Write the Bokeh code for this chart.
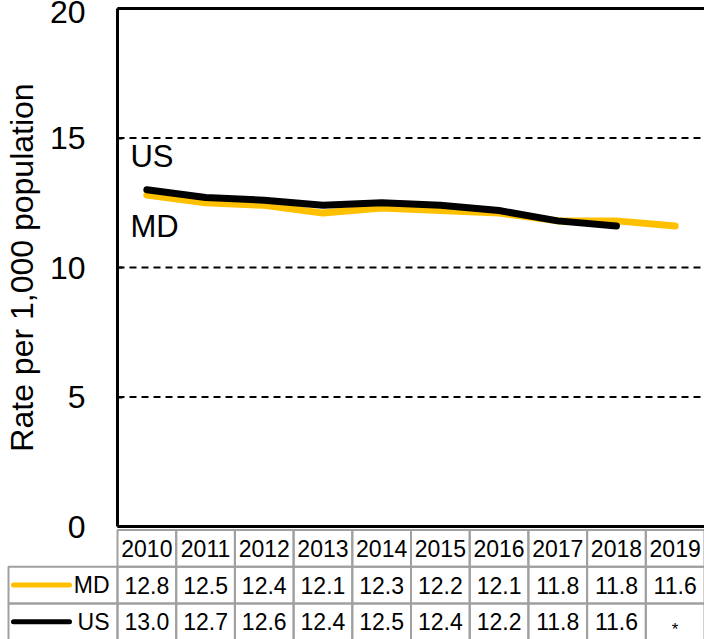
import math
from bokeh.plotting import figure
from bokeh.models import Range1d, FixedTicker, Label, LinearAxis
from bokeh.embed import file_html
from bokeh.resources import INLINE
from bokeh.core.properties import value

# ---------------- data ----------------
years = ["2010", "2011", "2012", "2013", "2014", "2015", "2016", "2017", "2018", "2019"]
md = [12.8, 12.5, 12.4, 12.1, 12.3, 12.2, 12.1, 11.8, 11.8, 11.6]
us = [13.0, 12.7, 12.6, 12.4, 12.5, 12.4, 12.2, 11.8, 11.6, None]
y_ticks = [0, 5, 10, 15, 20]
grid_ticks = [5, 10, 15]
series_names = ["MD", "US"]
series_colors = ["#FFC000", "#000000"]
y_label = "Rate per 1,000 population"
missing_mark = "*"

# ---------------- layout constants (pixels) ----------------
FONT = "Liberation Sans"
W = 704
H = 639
AXIS_X = 117            # x pixel of the value axis
Y_TOP_PX = 8            # pixel of y = 20
Y_ZERO_PX = 526         # pixel of y = 0
TABLE_TOP_PX = 529.5
ROW_PX = 36.7
N = len(years)
COL_PX = (W - AXIS_X) / N
Y_MAX = y_ticks[-1]
UNIT_PX = (Y_ZERO_PX - Y_TOP_PX) / Y_MAX
GRAY = "#A0A0A0"


def px_to_x(px):
    return (px - AXIS_X) / COL_PX


def px_to_y(px):
    return (Y_ZERO_PX - px) / UNIT_PX


def row_y(k):
    # y value of the top edge of table row k (0 = header)
    return px_to_y(TABLE_TOP_PX + k * ROW_PX)


xs = [i + 0.5 for i in range(N)]
md_y = [v if v is not None else math.nan for v in md]
us_y = [v if v is not None else math.nan for v in us]

p = figure(width=W, height=H, x_range=Range1d(px_to_x(0), N),
           y_range=Range1d(px_to_y(H), px_to_y(0)),
           output_backend="svg", toolbar_location=None,
           x_axis_location=None, y_axis_location=None,
           min_border_left=0, min_border_right=0, min_border_top=0, min_border_bottom=0)
p.outline_line_color = None
p.grid.visible = False

yax = LinearAxis(fixed_location=0, bounds=(0, Y_MAX), ticker=FixedTicker(ticks=y_ticks),
                 axis_label=y_label, axis_label_text_font=FONT, axis_label_text_font_size="32px",
                 axis_label_text_font_style="normal", axis_label_text_color="black",
                 axis_label_standoff=7,
                 major_label_text_font=FONT, major_label_text_font_size="32px",
                 major_label_text_color="black", major_label_standoff=32,
                 axis_line_width=3, axis_line_color="black",
                 major_tick_in=5, major_tick_out=0, major_tick_line_width=2,
                 minor_tick_line_color=None)
p.add_layout(yax, "left")

bottom_ax = LinearAxis(fixed_location=0, bounds=(0, N), ticker=FixedTicker(ticks=[]),
                       axis_line_width=3, axis_line_color="black",
                       major_tick_in=0, major_tick_out=0, minor_tick_line_color=None,
                       major_label_standoff=0)
p.add_layout(bottom_ax, "below")

top_ax = LinearAxis(fixed_location=Y_MAX, bounds=(0, N), ticker=FixedTicker(ticks=[]),
                    axis_line_width=3, axis_line_color="black",
                    major_tick_in=0, major_tick_out=0, minor_tick_line_color=None,
                    major_label_standoff=0)
p.add_layout(top_ax, "above")

# dashed gridlines inside the plot area only
p.segment(x0=[0] * len(grid_ticks), x1=[N] * len(grid_ticks), y0=grid_ticks, y1=grid_ticks,
          line_color="black", line_width=2, line_dash="7 5")

p.line(xs, md_y, line_color=series_colors[0], line_width=7, line_cap="round", line_join="round")
p.line(xs, us_y, line_color=series_colors[1], line_width=7, line_cap="round", line_join="round")

p.add_layout(Label(x=0.22, y=14.3, text="US", text_font=FONT, text_font_size="31px",
                   text_baseline="middle", text_color="black"))
p.add_layout(Label(x=0.22, y=11.6, text="MD", text_font=FONT, text_font_size="31px",
                   text_baseline="middle", text_color="black"))

# ---------------- data table ----------------
lefts = [i for i in range(N)]
rights = [i + 1 for i in range(N)]
p.quad(left=lefts, right=rights, top=[row_y(0)] * N, bottom=[row_y(1)] * N,
       fill_color=None, line_color=GRAY, line_width=2)
hdr_mid = (row_y(0) + row_y(1)) / 2
p.text(x=xs, y=[hdr_mid] * N, text=years, text_align="center", text_baseline="middle",
       text_font=value(FONT), text_font_size="23px", text_color="black")

legend_left = px_to_x(8)
rows = [(md, 1, series_names[0], series_colors[0]), (us, 2, series_names[1], series_colors[1])]
for vals, k, name, col in rows:
    top, bot = row_y(k), row_y(k + 1)
    mid = (top + bot) / 2
    p.quad(left=lefts + [legend_left], right=rights + [0], top=[top] * (N + 1), bottom=[bot] * (N + 1),
           fill_color=None, line_color=GRAY, line_width=2)
    tx, ty, tt = [], [], []
    mx, my = [], []
    for i, v in enumerate(vals):
        if v is None:
            mx.append(xs[i])
            my.append(px_to_y(TABLE_TOP_PX + (k + 1) * ROW_PX - 11))
        else:
            tx.append(xs[i])
            ty.append(mid)
            tt.append(f"{v:.1f}")
    p.text(x=tx, y=ty, text=tt, text_align="center", text_baseline="middle",
           text_font=value(FONT), text_font_size="23px", text_color="black")
    if mx:
        p.text(x=mx, y=my, text=[missing_mark] * len(mx), text_align="center",
               text_baseline="middle",
               text_font=value(FONT), text_font_size="17px", text_color="black")
    p.segment(x0=[px_to_x(13)], x1=[px_to_x(69)], y0=[mid], y1=[mid],
              line_color=col, line_width=5, line_cap="round")
    p.text(x=[px_to_x(109)], y=[mid], text=[name], text_align="right", text_baseline="middle",
           text_font=value(FONT), text_font_size="23px", text_color="black")

open("out.html", "w").write(file_html(p, INLINE))
